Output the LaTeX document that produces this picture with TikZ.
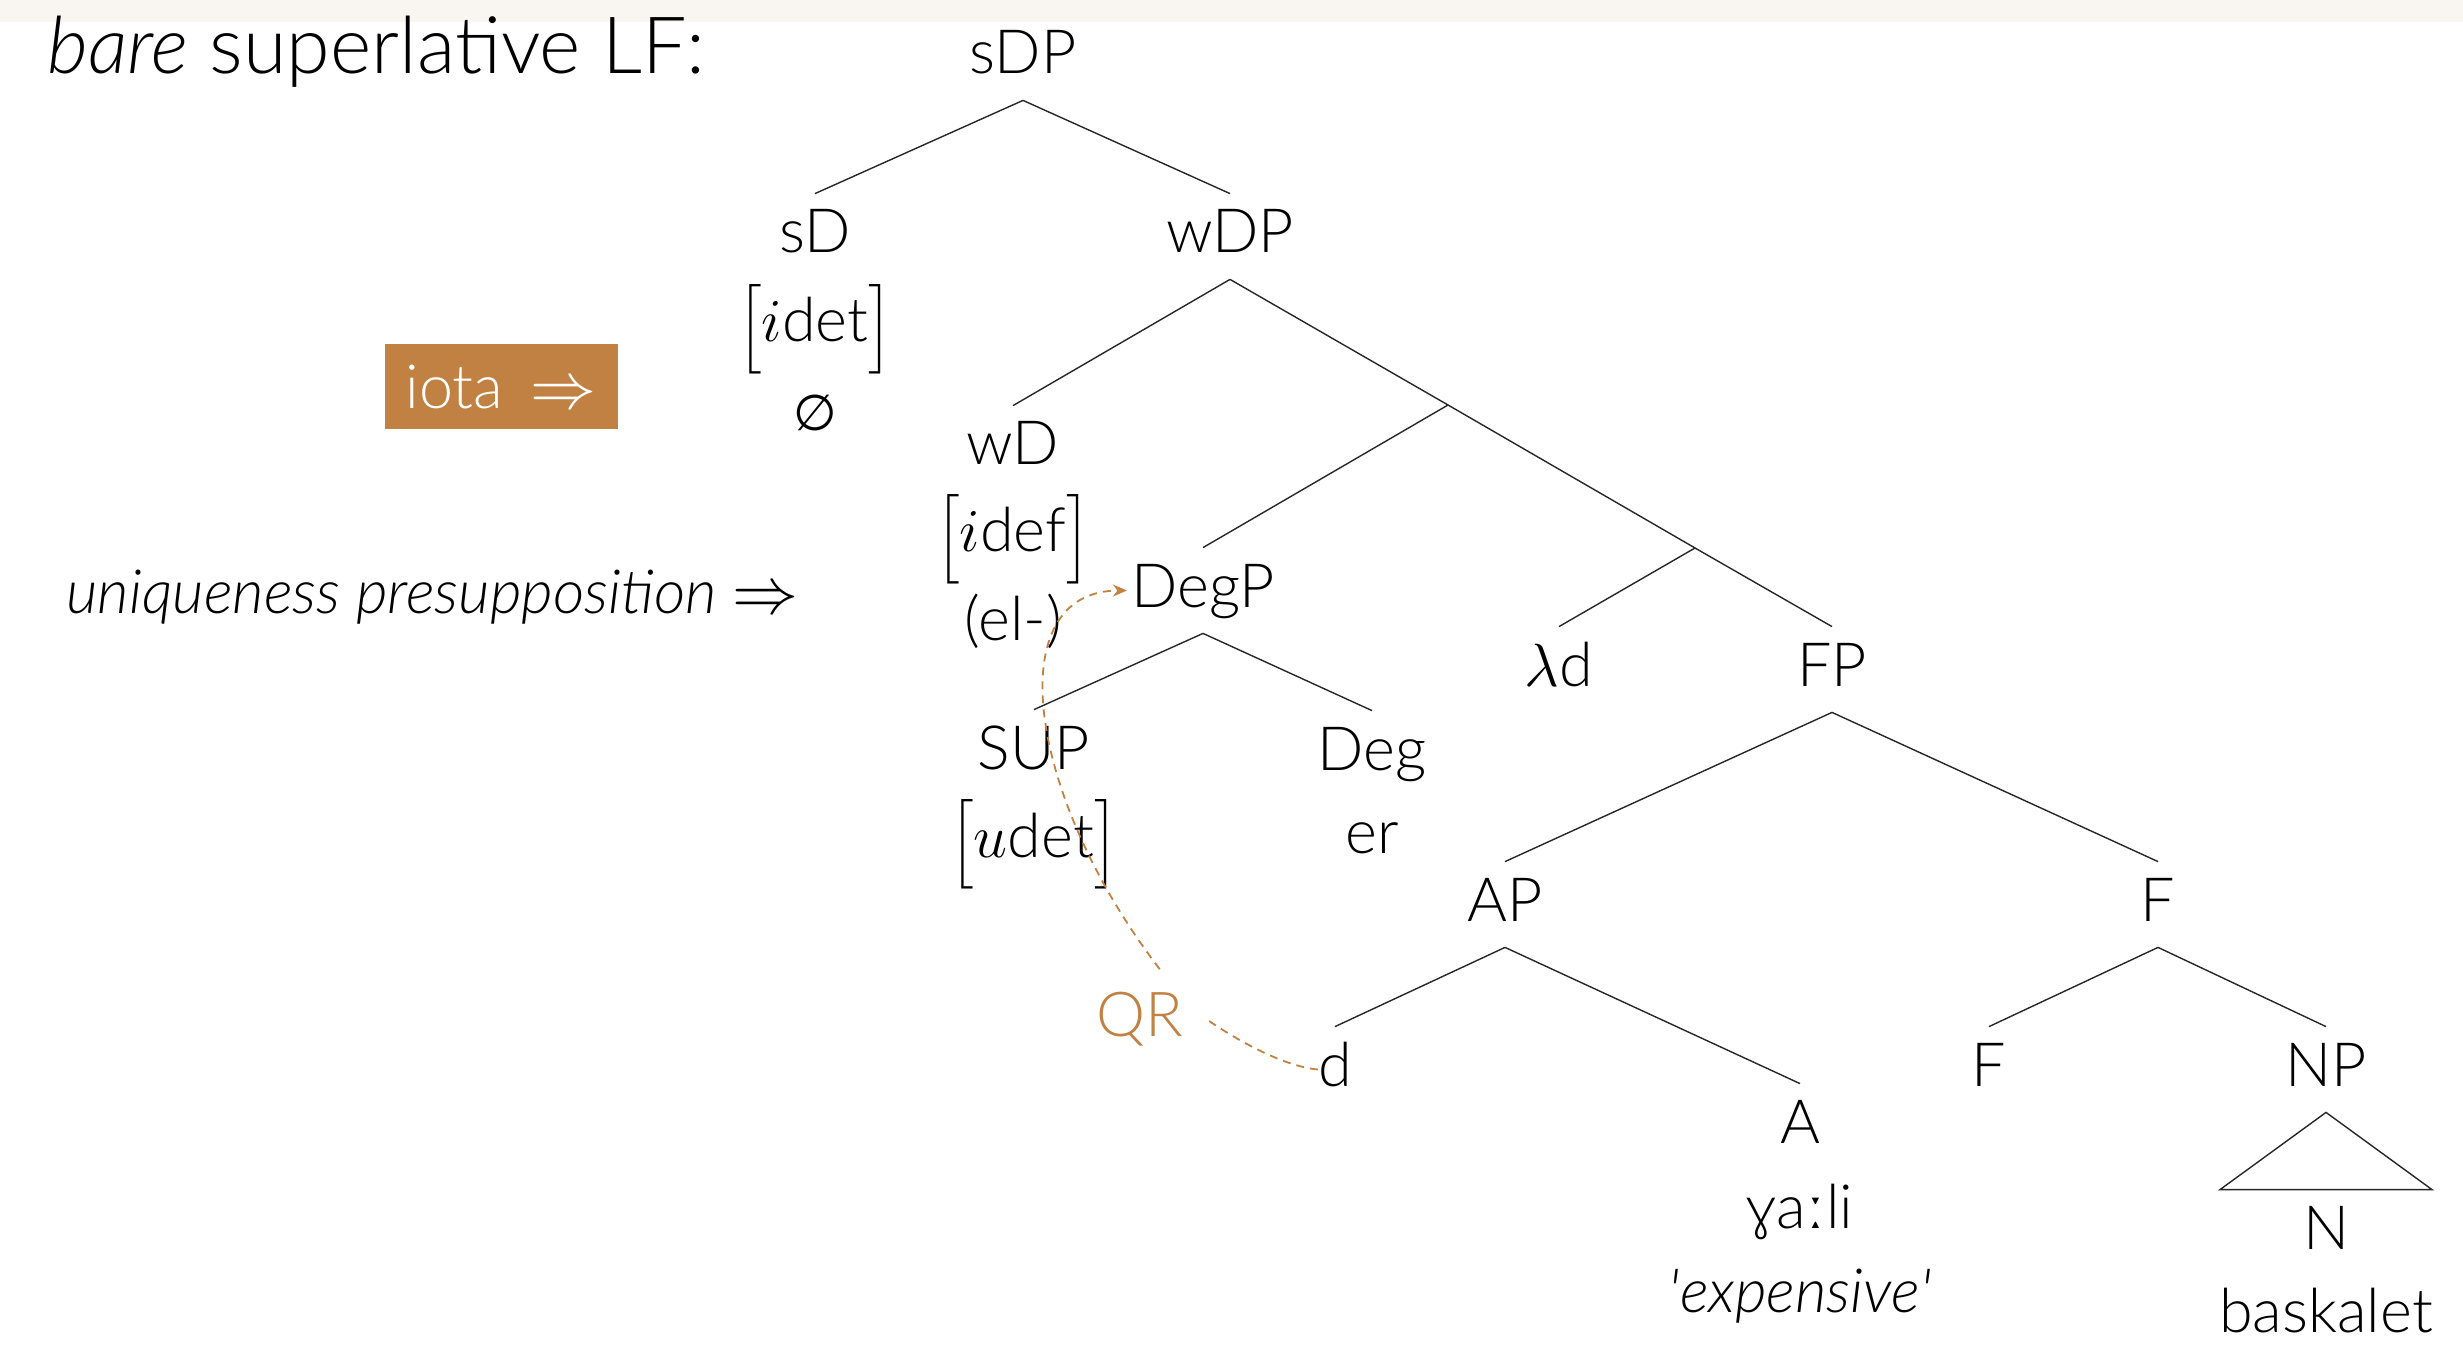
\RequirePackage{fix-cm}
\documentclass[tikz,border=0pt]{standalone}
\usepackage{fontspec}
\usepackage{exscale}
\setmainfont{Lato Light}[ItalicFont={Lato Light Italic}]
\newfontfamily\dvsans{DejaVu Sans}
\usetikzlibrary{arrows.meta}
\definecolor{accent}{RGB}{192,129,66}
\definecolor{band}{RGB}{249,246,241}
% tall square brackets around a feature
\newcommand{\brk}[1]{{\fontsize{25.5pt}{30pt}\selectfont\nulldelimiterspace=0pt$\left#1\vcenter to 44pt{}\right.$}}
\newcommand{\feat}[2]{\brk{[}$#1$#2\brk{]}}
\newcommand{\arr}{{\fontsize{33pt}{38pt}\selectfont$\Rightarrow$}}
\begin{document}
\begin{tikzpicture}[x=0.5pt,y=-0.5pt,
  every node/.style={font=\fontsize{30.5pt}{36pt}\selectfont},
  cat/.style={inner xsep=0pt, inner ysep=0pt, text height=29.5pt, text depth=13pt, anchor=base},
  sub/.style={inner sep=0pt, anchor=base},
  branch/.style={draw=black!85, line width=0.7pt},
  move/.style={draw=accent, line width=0.9pt, dash pattern=on 4pt off 3pt},
]
\fill[band] (0,0) rectangle (2463,22);
\path[use as bounding box] (0,0) rectangle (2463,1358);

% side labels
\node[anchor=base west, inner sep=0pt, font=\fontsize{39.5pt}{46pt}\selectfont] (title) at (47,74) {\textit{bare} superlative LF:};
\node[fill=accent, text=white, minimum width=116.5pt, minimum height=42.5pt, inner sep=0pt] (iota) at (501,386.5) {iota\hspace{0.45em}\arr};
\node[anchor=base west, inner sep=0pt, font=\fontsize{30.5pt}{36pt}\selectfont\itshape] (uniq) at (66,613) {uniqueness presupposition \arr};

% tree nodes
\node[cat] (sDP) at (1023,74) {sDP};
\node[cat] (sD) at (815,253) {sD};
\node[sub] (sDf) at (815,342) {\feat{i}{det}};
\node[sub] (sDx) at (815,430) {\dvsans\fontsize{25pt}{30pt}\selectfont ∅};
\node[cat] (wDP) at (1230,253) {wDP};
\node[cat] (wD) at (1013,465) {wD};
\node[sub] (wDf) at (1013,552) {\feat{i}{def}};
\node[sub] (wDx) at (1013,640) {(el-)};
\coordinate (X) at (1448,405);
\node[cat] (DegP) at (1203,607) {DegP};
\node[cat] (SUP) at (1034,769) {SUP};
\node[sub] (SUPf) at (1034,857) {\feat{u}{det}};
\node[cat] (Deg) at (1372,770) {Deg};
\node[sub] (Degx) at (1372,853) {er};
\coordinate (Y) at (1695,548);
\node[cat] (lam) at (1559,686) {$\lambda$d};
\node[cat] (FP) at (1832,686) {FP};
\node[cat] (AP) at (1505,921) {AP};
\node[cat] (Fbar) at (2158,921) {F};
\node[cat] (dtr) at (1335,1086) {d};
\node[cat] (A) at (1800,1143) {A};
\node[sub] (Ax) at (1800,1228) {ɣaːli};
\node[sub] (Agl) at (1800,1312) {\textit{\textquotesingle expensive\textquotesingle}};
\node[cat] (F) at (1989,1086) {F};
\node[cat] (NP) at (2326,1086) {NP};
\node[cat] (N) at (2326,1249) {N};
\node[sub] (Nx) at (2326,1332) {baskalet};

% branches
\draw[branch] (sDP.south) -- (sD.north);
\draw[branch] (sDP.south) -- (wDP.north);
\draw[branch] (wDP.south) -- (wD.north);
\draw[branch] (wDP.south) -- (X) -- (Y) -- (FP.north);
\draw[branch] (X) -- (DegP.north);
\draw[branch] (Y) -- (lam.north);
\draw[branch] (DegP.south) -- (SUP.north);
\draw[branch] (DegP.south) -- (Deg.north);
\draw[branch] (FP.south) -- (AP.north);
\draw[branch] (FP.south) -- (Fbar.north);
\draw[branch] (AP.south) -- (dtr.north);
\draw[branch] (AP.south) -- (A.north);
\draw[branch] (Fbar.south) -- (F.north);
\draw[branch] (Fbar.south) -- (NP.north);
\draw[branch] (NP.south) -- ([xshift=-53pt]N.north) -- ([xshift=53pt]N.north) -- cycle;

% movement of the degree
\node[anchor=base, inner sep=0pt, text=accent, font=\fontsize{31pt}{36pt}\selectfont] (QR) at (1140,1036) {QR};
\draw[move] (dtr.west) .. controls (1280,1066) and (1229,1035) .. ([xshift=11pt]QR.east);
\draw[move,-{Stealth[length=7pt,width=6pt]}] ([shift={(-12pt,11pt)}]QR.north east) .. controls (1025,793) and (1000,591) .. ([xshift=-2pt]DegP.west);
\end{tikzpicture}
\end{document}
